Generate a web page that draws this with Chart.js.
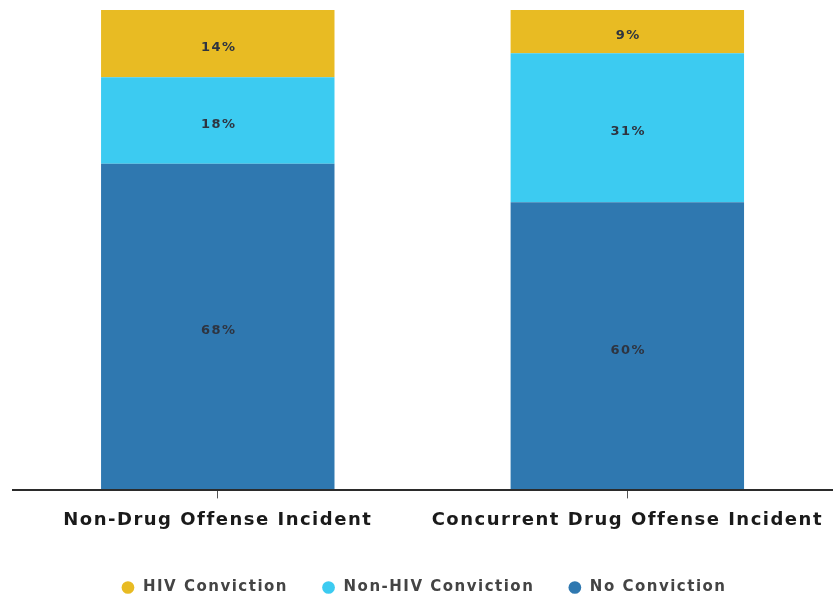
<!DOCTYPE html>
<html lang="en">
<head>
    <meta charset="UTF-8">
    <title>Convictions by incident type</title>
    <script src="https://cdn.jsdelivr.net/npm/chart.js@4"></script>
    <style>
        html, body { margin: 0; padding: 0; background: #fff; }
    </style>
</head>
<body>
    <div class="chartBox">
        <canvas id="myChart" width="834" height="600"></canvas>
    </div>

    <script>
        // data
        const categories = ['Non-Drug Offense Incident', 'Concurrent Drug Offense Incident'];
        const noConviction = [68, 60];
        const nonHivConviction = [18, 31];
        const hivConviction = [14, 9];

        const fontFamily = 'DejaVu Sans, Verdana, sans-serif';

        // the original font is wide, so add some letter spacing everywhere,
        // nudge the legend down a bit and write the % labels in the bars
        const extras = {
            id: 'extras',
            beforeLayout(chart) { chart.ctx.letterSpacing = '1.5px'; },
            afterLayout(chart) {
                chart.legend.top += 5;
                chart.legend.bottom += 5;
            },
            beforeDraw(chart) { chart.ctx.letterSpacing = '1.5px'; },
            afterDatasetsDraw(chart) {
                const ctx = chart.ctx;
                ctx.save();
                ctx.font = 'bold 13px ' + fontFamily;
                ctx.fillStyle = '#2e3440';
                ctx.textAlign = 'center';
                ctx.textBaseline = 'middle';
                chart.data.datasets.forEach((ds, i) => {
                    chart.getDatasetMeta(i).data.forEach((bar, j) => {
                        const mid = (bar.y + bar.base) / 2;
                        ctx.fillText(ds.data[j] + '%', bar.x + 1, mid + 4);
                    });
                });
                ctx.restore();
            }
        };

        const data = {
            labels: categories,
            datasets: [
                { label: 'No Conviction', data: noConviction, backgroundColor: '#2f78b0' },
                { label: 'Non-HIV Conviction', data: nonHivConviction, backgroundColor: '#3ccbf1' },
                { label: 'HIV Conviction', data: hivConviction, backgroundColor: '#e8bb23' }
            ]
        };

        const config = {
            type: 'bar',
            data,
            plugins: [extras],
            options: {
                responsive: false,
                animation: false,
                layout: { padding: { left: 13, right: 0, top: 10, bottom: 0 } },
                datasets: {
                    bar: { barPercentage: 1, categoryPercentage: 0.57, borderWidth: 0 }
                },
                plugins: {
                    tooltip: { enabled: false },
                    legend: {
                        position: 'bottom',
                        reverse: true,
                        labels: {
                            usePointStyle: true,
                            pointStyle: 'circle',
                            boxWidth: 15,
                            boxHeight: 9,
                            padding: 33,
                            color: '#444',
                            font: { family: fontFamily, size: 15, weight: 'bold' }
                        }
                    }
                },
                scales: {
                    x: {
                        stacked: true,
                        border: { display: true, color: '#2b2b2b', width: 2, z: 1 },
                        grid: { display: true, offset: false, drawOnChartArea: false, drawTicks: true, tickLength: 8, color: '#555', z: 1 },
                        ticks: {
                            z: 1,
                            color: '#1a1a1a',
                            padding: 11,
                            maxRotation: 0,
                            autoSkip: false,
                            font: { family: fontFamily, size: 18, weight: 'bold' }
                        }
                    },
                    y: {
                        stacked: true,
                        display: false,
                        min: 0,
                        max: 100
                    }
                }
            }
        };

        const myChart = new Chart(document.getElementById('myChart'), config);
    </script>
</body>
</html>
